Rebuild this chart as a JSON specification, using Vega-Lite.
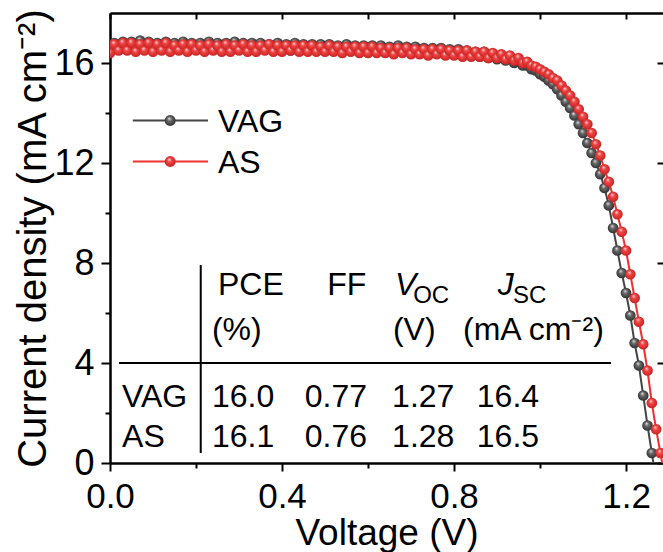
{
  "$schema": "https://vega.github.io/schema/vega-lite/v6.json",
  "width": 553,
  "height": 450,
  "autosize": {"type": "none"},
  "padding": {"left": 110, "top": 13, "right": 0, "bottom": 89},
  "background": "white",
  "config": {
    "view": {"stroke": null},
    "font": "Liberation Sans",
    "axis": {"labelFont": "Liberation Sans", "titleFont": "Liberation Sans", "grid": false, "labelColor": "black", "titleColor": "black", "tickColor": "black", "domainColor": "black", "titleFontWeight": "normal", "labelFlush": false, "labelOverlap": false},
    "text": {"font": "Liberation Sans", "color": "black"}
  },
  "datasets": {
    "jv": [
      {"s":"VAG","v":0.00,"j":16.55},{"s":"VAG","v":0.01,"j":16.8},{"s":"VAG","v":0.02,"j":16.6},{"s":"VAG","v":0.03,"j":16.85},{"s":"VAG","v":0.04,"j":16.6},{"s":"VAG","v":0.05,"j":16.85},{"s":"VAG","v":0.06,"j":16.65},{"s":"VAG","v":0.07,"j":16.9},{"s":"VAG","v":0.08,"j":16.6},{"s":"VAG","v":0.09,"j":16.85},
      {"s":"VAG","v":0.10,"j":16.6},{"s":"VAG","v":0.11,"j":16.8},{"s":"VAG","v":0.12,"j":16.55},{"s":"VAG","v":0.13,"j":16.85},{"s":"VAG","v":0.14,"j":16.6},{"s":"VAG","v":0.15,"j":16.8},{"s":"VAG","v":0.16,"j":16.55},{"s":"VAG","v":0.17,"j":16.85},{"s":"VAG","v":0.18,"j":16.6},{"s":"VAG","v":0.19,"j":16.8},
      {"s":"VAG","v":0.20,"j":16.55},{"s":"VAG","v":0.21,"j":16.8},{"s":"VAG","v":0.22,"j":16.6},{"s":"VAG","v":0.23,"j":16.85},{"s":"VAG","v":0.24,"j":16.55},{"s":"VAG","v":0.25,"j":16.8},{"s":"VAG","v":0.26,"j":16.6},{"s":"VAG","v":0.27,"j":16.8},{"s":"VAG","v":0.28,"j":16.55},{"s":"VAG","v":0.29,"j":16.85},
      {"s":"VAG","v":0.30,"j":16.6},{"s":"VAG","v":0.31,"j":16.8},{"s":"VAG","v":0.32,"j":16.55},{"s":"VAG","v":0.33,"j":16.8},{"s":"VAG","v":0.34,"j":16.6},{"s":"VAG","v":0.35,"j":16.8},{"s":"VAG","v":0.36,"j":16.55},{"s":"VAG","v":0.37,"j":16.75},{"s":"VAG","v":0.38,"j":16.55},{"s":"VAG","v":0.39,"j":16.8},
      {"s":"VAG","v":0.40,"j":16.55},{"s":"VAG","v":0.41,"j":16.75},{"s":"VAG","v":0.42,"j":16.5},{"s":"VAG","v":0.43,"j":16.8},{"s":"VAG","v":0.44,"j":16.55},{"s":"VAG","v":0.45,"j":16.75},{"s":"VAG","v":0.46,"j":16.5},{"s":"VAG","v":0.47,"j":16.75},{"s":"VAG","v":0.48,"j":16.55},{"s":"VAG","v":0.49,"j":16.75},
      {"s":"VAG","v":0.50,"j":16.5},{"s":"VAG","v":0.51,"j":16.75},{"s":"VAG","v":0.52,"j":16.5},{"s":"VAG","v":0.53,"j":16.7},{"s":"VAG","v":0.54,"j":16.5},{"s":"VAG","v":0.55,"j":16.75},{"s":"VAG","v":0.56,"j":16.5},{"s":"VAG","v":0.57,"j":16.7},{"s":"VAG","v":0.58,"j":16.45},{"s":"VAG","v":0.59,"j":16.7},
      {"s":"VAG","v":0.60,"j":16.5},{"s":"VAG","v":0.61,"j":16.7},{"s":"VAG","v":0.62,"j":16.45},{"s":"VAG","v":0.63,"j":16.7},{"s":"VAG","v":0.64,"j":16.45},{"s":"VAG","v":0.65,"j":16.65},{"s":"VAG","v":0.66,"j":16.45},{"s":"VAG","v":0.67,"j":16.7},{"s":"VAG","v":0.68,"j":16.45},{"s":"VAG","v":0.69,"j":16.65},
      {"s":"VAG","v":0.70,"j":16.4},{"s":"VAG","v":0.71,"j":16.65},{"s":"VAG","v":0.72,"j":16.4},{"s":"VAG","v":0.73,"j":16.6},{"s":"VAG","v":0.74,"j":16.4},{"s":"VAG","v":0.75,"j":16.6},{"s":"VAG","v":0.76,"j":16.4},{"s":"VAG","v":0.77,"j":16.6},{"s":"VAG","v":0.78,"j":16.35},{"s":"VAG","v":0.79,"j":16.55},
      {"s":"VAG","v":0.80,"j":16.35},{"s":"VAG","v":0.81,"j":16.55},{"s":"VAG","v":0.82,"j":16.3},{"s":"VAG","v":0.83,"j":16.5},{"s":"VAG","v":0.84,"j":16.3},{"s":"VAG","v":0.85,"j":16.45},{"s":"VAG","v":0.86,"j":16.25},{"s":"VAG","v":0.87,"j":16.45},{"s":"VAG","v":0.88,"j":16.2},{"s":"VAG","v":0.89,"j":16.35},
      {"s":"VAG","v":0.90,"j":16.15},{"s":"VAG","v":0.91,"j":16.3},{"s":"VAG","v":0.92,"j":16.1},{"s":"VAG","v":0.93,"j":16.2},{"s":"VAG","v":0.94,"j":16.0},{"s":"VAG","v":0.95,"j":16.05},{"s":"VAG","v":0.96,"j":15.9},{"s":"VAG","v":0.97,"j":15.9},{"s":"VAG","v":0.98,"j":15.75},{"s":"VAG","v":0.99,"j":15.7},
      {"s":"VAG","v":1.00,"j":15.55},{"s":"VAG","v":1.01,"j":15.45},{"s":"VAG","v":1.02,"j":15.3},{"s":"VAG","v":1.03,"j":15.15},{"s":"VAG","v":1.04,"j":14.95},{"s":"VAG","v":1.05,"j":14.7},{"s":"VAG","v":1.06,"j":14.45},{"s":"VAG","v":1.07,"j":14.2},{"s":"VAG","v":1.08,"j":13.9},{"s":"VAG","v":1.09,"j":13.55},
      {"s":"VAG","v":1.10,"j":13.2},{"s":"VAG","v":1.11,"j":12.8},{"s":"VAG","v":1.12,"j":12.4},{"s":"VAG","v":1.13,"j":12.0},{"s":"VAG","v":1.14,"j":11.55},{"s":"VAG","v":1.15,"j":11.0},{"s":"VAG","v":1.16,"j":10.3},{"s":"VAG","v":1.17,"j":9.4},{"s":"VAG","v":1.18,"j":8.5},{"s":"VAG","v":1.19,"j":7.6},
      {"s":"VAG","v":1.20,"j":6.8},{"s":"VAG","v":1.21,"j":5.9},{"s":"VAG","v":1.22,"j":4.8},{"s":"VAG","v":1.23,"j":3.9},{"s":"VAG","v":1.24,"j":2.7},{"s":"VAG","v":1.25,"j":1.5},{"s":"VAG","v":1.26,"j":0.4},{"s":"VAG","v":1.27,"j":-0.7},
      {"s":"AS","v":0.00,"j":16.4},{"s":"AS","v":0.01,"j":16.75},{"s":"AS","v":0.02,"j":16.5},{"s":"AS","v":0.03,"j":16.8},{"s":"AS","v":0.04,"j":16.5},{"s":"AS","v":0.05,"j":16.8},{"s":"AS","v":0.06,"j":16.45},{"s":"AS","v":0.07,"j":16.75},{"s":"AS","v":0.08,"j":16.5},{"s":"AS","v":0.09,"j":16.8},
      {"s":"AS","v":0.10,"j":16.45},{"s":"AS","v":0.11,"j":16.75},{"s":"AS","v":0.12,"j":16.5},{"s":"AS","v":0.13,"j":16.8},{"s":"AS","v":0.14,"j":16.45},{"s":"AS","v":0.15,"j":16.7},{"s":"AS","v":0.16,"j":16.5},{"s":"AS","v":0.17,"j":16.75},{"s":"AS","v":0.18,"j":16.45},{"s":"AS","v":0.19,"j":16.75},
      {"s":"AS","v":0.20,"j":16.5},{"s":"AS","v":0.21,"j":16.7},{"s":"AS","v":0.22,"j":16.45},{"s":"AS","v":0.23,"j":16.75},{"s":"AS","v":0.24,"j":16.5},{"s":"AS","v":0.25,"j":16.7},{"s":"AS","v":0.26,"j":16.45},{"s":"AS","v":0.27,"j":16.75},{"s":"AS","v":0.28,"j":16.45},{"s":"AS","v":0.29,"j":16.7},
      {"s":"AS","v":0.30,"j":16.5},{"s":"AS","v":0.31,"j":16.75},{"s":"AS","v":0.32,"j":16.45},{"s":"AS","v":0.33,"j":16.7},{"s":"AS","v":0.34,"j":16.45},{"s":"AS","v":0.35,"j":16.7},{"s":"AS","v":0.36,"j":16.5},{"s":"AS","v":0.37,"j":16.75},{"s":"AS","v":0.38,"j":16.45},{"s":"AS","v":0.39,"j":16.7},
      {"s":"AS","v":0.40,"j":16.45},{"s":"AS","v":0.41,"j":16.7},{"s":"AS","v":0.42,"j":16.5},{"s":"AS","v":0.43,"j":16.7},{"s":"AS","v":0.44,"j":16.45},{"s":"AS","v":0.45,"j":16.7},{"s":"AS","v":0.46,"j":16.45},{"s":"AS","v":0.47,"j":16.7},{"s":"AS","v":0.48,"j":16.45},{"s":"AS","v":0.49,"j":16.65},
      {"s":"AS","v":0.50,"j":16.45},{"s":"AS","v":0.51,"j":16.7},{"s":"AS","v":0.52,"j":16.45},{"s":"AS","v":0.53,"j":16.65},{"s":"AS","v":0.54,"j":16.4},{"s":"AS","v":0.55,"j":16.65},{"s":"AS","v":0.56,"j":16.45},{"s":"AS","v":0.57,"j":16.65},{"s":"AS","v":0.58,"j":16.4},{"s":"AS","v":0.59,"j":16.65},
      {"s":"AS","v":0.60,"j":16.4},{"s":"AS","v":0.61,"j":16.65},{"s":"AS","v":0.62,"j":16.4},{"s":"AS","v":0.63,"j":16.6},{"s":"AS","v":0.64,"j":16.4},{"s":"AS","v":0.65,"j":16.6},{"s":"AS","v":0.66,"j":16.35},{"s":"AS","v":0.67,"j":16.6},{"s":"AS","v":0.68,"j":16.4},{"s":"AS","v":0.69,"j":16.6},
      {"s":"AS","v":0.70,"j":16.35},{"s":"AS","v":0.71,"j":16.55},{"s":"AS","v":0.72,"j":16.35},{"s":"AS","v":0.73,"j":16.55},{"s":"AS","v":0.74,"j":16.3},{"s":"AS","v":0.75,"j":16.55},{"s":"AS","v":0.76,"j":16.35},{"s":"AS","v":0.77,"j":16.55},{"s":"AS","v":0.78,"j":16.3},{"s":"AS","v":0.79,"j":16.5},
      {"s":"AS","v":0.80,"j":16.3},{"s":"AS","v":0.81,"j":16.5},{"s":"AS","v":0.82,"j":16.25},{"s":"AS","v":0.83,"j":16.5},{"s":"AS","v":0.84,"j":16.25},{"s":"AS","v":0.85,"j":16.45},{"s":"AS","v":0.86,"j":16.25},{"s":"AS","v":0.87,"j":16.45},{"s":"AS","v":0.88,"j":16.2},{"s":"AS","v":0.89,"j":16.4},
      {"s":"AS","v":0.90,"j":16.2},{"s":"AS","v":0.91,"j":16.35},{"s":"AS","v":0.92,"j":16.15},{"s":"AS","v":0.93,"j":16.3},{"s":"AS","v":0.94,"j":16.1},{"s":"AS","v":0.95,"j":16.2},{"s":"AS","v":0.96,"j":16.0},{"s":"AS","v":0.97,"j":16.05},{"s":"AS","v":0.98,"j":15.9},{"s":"AS","v":0.99,"j":15.85},
      {"s":"AS","v":1.00,"j":15.75},{"s":"AS","v":1.01,"j":15.65},{"s":"AS","v":1.02,"j":15.55},{"s":"AS","v":1.03,"j":15.4},{"s":"AS","v":1.04,"j":15.3},{"s":"AS","v":1.05,"j":15.1},{"s":"AS","v":1.06,"j":14.9},{"s":"AS","v":1.07,"j":14.7},{"s":"AS","v":1.08,"j":14.45},{"s":"AS","v":1.09,"j":14.15},
      {"s":"AS","v":1.10,"j":13.85},{"s":"AS","v":1.11,"j":13.55},{"s":"AS","v":1.12,"j":13.2},{"s":"AS","v":1.13,"j":12.75},{"s":"AS","v":1.14,"j":12.3},{"s":"AS","v":1.15,"j":11.75},{"s":"AS","v":1.16,"j":11.25},{"s":"AS","v":1.17,"j":10.65},{"s":"AS","v":1.18,"j":9.95},{"s":"AS","v":1.19,"j":9.25},
      {"s":"AS","v":1.20,"j":8.5},{"s":"AS","v":1.21,"j":7.55},{"s":"AS","v":1.22,"j":6.6},{"s":"AS","v":1.23,"j":5.65},{"s":"AS","v":1.24,"j":4.75},{"s":"AS","v":1.25,"j":3.7},{"s":"AS","v":1.26,"j":2.4},{"s":"AS","v":1.27,"j":1.35},{"s":"AS","v":1.28,"j":0.4},{"s":"AS","v":1.29,"j":-0.6}
    ],
    "legendLines": [
      {"s":"VAG","v":0.053,"v2":0.228,"j":13.7,"vm":0.14},
      {"s":"AS","v":0.053,"v2":0.228,"j":12.06,"vm":0.14}
    ],
    "texts": [
      {"t":"VAG","v":0.251,"j":13.24},
      {"t":"AS","v":0.251,"j":11.6},
      {"t":"PCE","v":0.251,"j":6.72},
      {"t":"FF","v":0.505,"j":6.72},
      {"t":"(%)","v":0.237,"j":4.92},
      {"t":"(V)","v":0.658,"j":4.92},
      {"t":"(mA cm⁻²)","v":0.821,"j":4.92},
      {"t":"VAG","v":0.028,"j":2.25},
      {"t":"16.0","v":0.237,"j":2.25},
      {"t":"0.77","v":0.453,"j":2.25},
      {"t":"1.27","v":0.656,"j":2.25},
      {"t":"16.4","v":0.853,"j":2.25},
      {"t":"AS","v":0.028,"j":0.65},
      {"t":"16.1","v":0.237,"j":0.65},
      {"t":"0.76","v":0.453,"j":0.65},
      {"t":"1.28","v":0.656,"j":0.65},
      {"t":"16.5","v":0.853,"j":0.65}
    ],
    "italics": [
      {"t":"V","v":0.663,"j":6.72},
      {"t":"J","v":0.902,"j":6.72}
    ],
    "subs": [
      {"t":"OC","v":0.705,"j":6.4},
      {"t":"SC","v":0.937,"j":6.4}
    ],
    "tableLines": [
      {"v":0.021,"v2":1.165,"j":4.0,"j2":4.0},
      {"v":0.211,"v2":0.211,"j":7.92,"j2":0.4}
    ]
  },
  "resolve": {"axis": {"x": "independent", "y": "independent"}},
  "layer": [
    {
      "data": {"name": "jv"},
      "transform": [{"filter": "datum.s === 'VAG'"}],
      "mark": {"type": "line", "clip": true, "color": "#454545", "strokeWidth": 2},
      "encoding": {
        "x": {"field": "v", "type": "quantitative", "scale": {"domain": [0, 1.286], "nice": false, "zero": false},
          "axis": {"orient": "bottom", "values": [0, 0.2, 0.4, 0.6, 0.8, 1.0, 1.2],
            "labelExpr": "round(datum.value*10) % 4 === 0 ? format(datum.value, '.1f') : ''",
            "tickSize": {"condition": {"test": "round(datum.value*10) % 4 === 0", "value": 8}, "value": 5},
            "tickWidth": 2, "domainWidth": 2.5, "labelFontSize": 35, "labelPadding": 8,
            "title": "Voltage (V)", "titleFontSize": 37, "titlePadding": 1}},
        "y": {"field": "j", "type": "quantitative", "scale": {"domain": [0, 18], "nice": false, "zero": false},
          "axis": {"orient": "left", "values": [0, 2, 4, 6, 8, 10, 12, 14, 16],
            "labelExpr": "datum.value % 4 === 0 ? datum.label : ''",
            "tickSize": {"condition": {"test": "datum.value % 4 === 0", "value": 9}, "value": 5},
            "tickWidth": 2, "domainWidth": 2.5, "labelFontSize": 36, "labelPadding": 7,
            "title": "Current density (mA cm⁻²)", "titleFontSize": 40, "titlePadding": 0}}
      }
    },
    {
      "data": {"name": "jv"},
      "transform": [{"filter": "datum.s === 'VAG'"}],
      "mark": {"type": "point", "clip": true, "filled": true, "size": 115, "opacity": 1,
        "fill": {"gradient": "radial", "x1": 0.4, "y1": 0.3, "r1": 0, "x2": 0.5, "y2": 0.5, "r2": 0.55,
          "stops": [{"offset": 0, "color": "#e8e8e8"}, {"offset": 0.35, "color": "#6a6a6a"}, {"offset": 1, "color": "#2a2a2a"}]}},
      "encoding": {
        "x": {"field": "v", "type": "quantitative", "scale": {"domain": [0, 1.286], "nice": false, "zero": false}, "axis": null},
        "y": {"field": "j", "type": "quantitative", "scale": {"domain": [0, 18], "nice": false, "zero": false}, "axis": null}
      }
    },
    {
      "data": {"name": "jv"},
      "transform": [{"filter": "datum.s === 'AS'"}],
      "mark": {"type": "line", "clip": true, "color": "#ee3030", "strokeWidth": 2},
      "encoding": {
        "x": {"field": "v", "type": "quantitative", "scale": {"domain": [0, 1.286], "nice": false, "zero": false}, "axis": null},
        "y": {"field": "j", "type": "quantitative", "scale": {"domain": [0, 18], "nice": false, "zero": false}, "axis": null}
      }
    },
    {
      "data": {"name": "jv"},
      "transform": [{"filter": "datum.s === 'AS'"}],
      "mark": {"type": "point", "clip": true, "filled": true, "size": 115, "opacity": 1,
        "fill": {"gradient": "radial", "x1": 0.4, "y1": 0.3, "r1": 0, "x2": 0.5, "y2": 0.5, "r2": 0.55,
          "stops": [{"offset": 0, "color": "#ffe0e0"}, {"offset": 0.35, "color": "#f04545"}, {"offset": 1, "color": "#c41e1e"}]}},
      "encoding": {
        "x": {"field": "v", "type": "quantitative", "scale": {"domain": [0, 1.286], "nice": false, "zero": false}, "axis": null},
        "y": {"field": "j", "type": "quantitative", "scale": {"domain": [0, 18], "nice": false, "zero": false}, "axis": null}
      }
    },
    {
      "data": {"name": "legendLines"},
      "mark": {"type": "rule", "strokeWidth": 2},
      "encoding": {
        "x": {"field": "v", "type": "quantitative", "scale": {"domain": [0, 1.286], "nice": false, "zero": false}, "axis": null},
        "x2": {"field": "v2"},
        "y": {"field": "j", "type": "quantitative", "scale": {"domain": [0, 18], "nice": false, "zero": false}, "axis": null},
        "color": {"field": "s", "type": "nominal", "scale": {"domain": ["VAG", "AS"], "range": ["#454545", "#ee3030"]}, "legend": null}
      }
    },
    {
      "data": {"name": "legendLines"},
      "transform": [{"filter": "datum.s === 'VAG'"}],
      "mark": {"type": "point", "filled": true, "size": 120, "opacity": 1,
        "fill": {"gradient": "radial", "x1": 0.4, "y1": 0.3, "r1": 0, "x2": 0.5, "y2": 0.5, "r2": 0.55,
          "stops": [{"offset": 0, "color": "#e8e8e8"}, {"offset": 0.35, "color": "#6a6a6a"}, {"offset": 1, "color": "#2a2a2a"}]}},
      "encoding": {
        "x": {"field": "vm", "type": "quantitative", "scale": {"domain": [0, 1.286], "nice": false, "zero": false}, "axis": null},
        "y": {"field": "j", "type": "quantitative", "scale": {"domain": [0, 18], "nice": false, "zero": false}, "axis": null}
      }
    },
    {
      "data": {"name": "legendLines"},
      "transform": [{"filter": "datum.s === 'AS'"}],
      "mark": {"type": "point", "filled": true, "size": 120, "opacity": 1,
        "fill": {"gradient": "radial", "x1": 0.4, "y1": 0.3, "r1": 0, "x2": 0.5, "y2": 0.5, "r2": 0.55,
          "stops": [{"offset": 0, "color": "#ffe0e0"}, {"offset": 0.35, "color": "#f04545"}, {"offset": 1, "color": "#c41e1e"}]}},
      "encoding": {
        "x": {"field": "vm", "type": "quantitative", "scale": {"domain": [0, 1.286], "nice": false, "zero": false}, "axis": null},
        "y": {"field": "j", "type": "quantitative", "scale": {"domain": [0, 18], "nice": false, "zero": false}, "axis": null}
      }
    },
    {
      "data": {"name": "tableLines"},
      "mark": {"type": "rule", "strokeWidth": 2, "color": "black"},
      "encoding": {
        "x": {"field": "v", "type": "quantitative", "scale": {"domain": [0, 1.286], "nice": false, "zero": false}, "axis": null},
        "x2": {"field": "v2"},
        "y": {"field": "j", "type": "quantitative", "scale": {"domain": [0, 18], "nice": false, "zero": false}, "axis": null},
        "y2": {"field": "j2"}
      }
    },
    {
      "data": {"name": "texts"},
      "mark": {"type": "text", "align": "left", "baseline": "alphabetic", "fontSize": 32, "color": "black"},
      "encoding": {
        "x": {"field": "v", "type": "quantitative", "scale": {"domain": [0, 1.286], "nice": false, "zero": false}, "axis": null},
        "y": {"field": "j", "type": "quantitative", "scale": {"domain": [0, 18], "nice": false, "zero": false}, "axis": null},
        "text": {"field": "t"}
      }
    },
    {
      "data": {"name": "italics"},
      "mark": {"type": "text", "align": "left", "baseline": "alphabetic", "fontSize": 32, "fontStyle": "italic", "color": "black"},
      "encoding": {
        "x": {"field": "v", "type": "quantitative", "scale": {"domain": [0, 1.286], "nice": false, "zero": false}, "axis": null},
        "y": {"field": "j", "type": "quantitative", "scale": {"domain": [0, 18], "nice": false, "zero": false}, "axis": null},
        "text": {"field": "t"}
      }
    },
    {
      "data": {"name": "subs"},
      "mark": {"type": "text", "align": "left", "baseline": "alphabetic", "fontSize": 24, "color": "black"},
      "encoding": {
        "x": {"field": "v", "type": "quantitative", "scale": {"domain": [0, 1.286], "nice": false, "zero": false}, "axis": null},
        "y": {"field": "j", "type": "quantitative", "scale": {"domain": [0, 18], "nice": false, "zero": false}, "axis": null},
        "text": {"field": "t"}
      }
    },
    {
      "data": {"values": [{"v": 0, "j": 0}]},
      "mark": {"type": "point", "opacity": 0},
      "encoding": {
        "x": {"field": "v", "type": "quantitative", "scale": {"domain": [0, 1.286], "nice": false, "zero": false},
          "axis": {"orient": "top", "values": [0, 0.2, 0.4, 0.6, 0.8, 1.0, 1.2], "labels": false, "title": null,
            "tickSize": -6, "tickWidth": 2, "domainWidth": 2.5}},
        "y": {"field": "j", "type": "quantitative", "scale": {"domain": [0, 18], "nice": false, "zero": false},
          "axis": {"orient": "right", "values": [0, 4, 8, 12, 16], "labels": false, "title": null,
            "tickSize": -6, "tickWidth": 2, "domain": false}}
      }
    }
  ]
}
